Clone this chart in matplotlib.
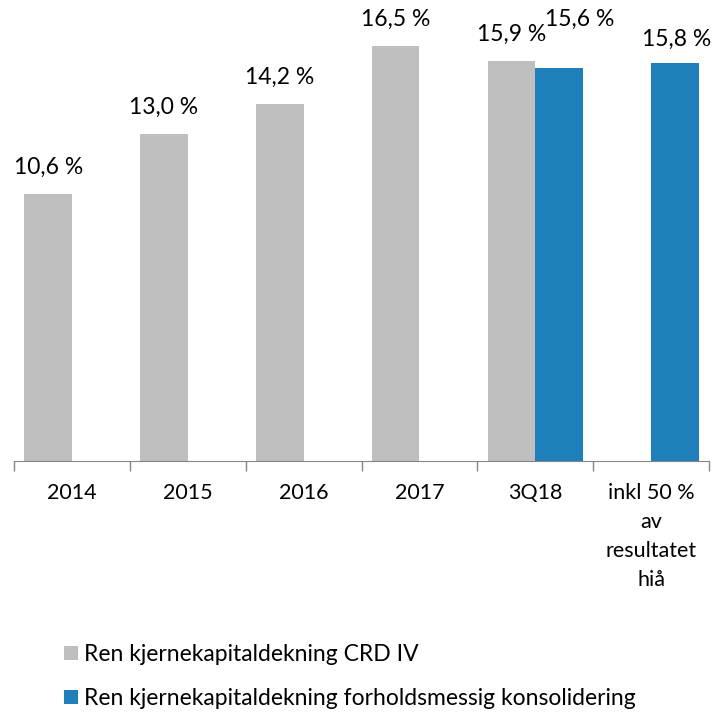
import matplotlib.pyplot as plt
import numpy as np

categories = ["2014", "2015", "2016", "2017", "3Q18", "inkl 50 %\nav\nresultatet\nhiå"]
crd_iv = [10.6, 13.0, 14.2, 16.5, 15.9, np.nan]
konsolidering = [np.nan, np.nan, np.nan, np.nan, 15.6, 15.8]
series_names = ["Ren kjernekapitaldekning CRD IV",
                "Ren kjernekapitaldekning forholdsmessig konsolidering"]

GRAY = "#BFBFBF"
BLUE = "#1F7FBA"

plt.rcParams['font.family'] = ['Lato', 'DejaVu Sans']

fig = plt.figure(figsize=(7.17, 7.12), dpi=100)
ax = fig.add_axes([0.0195, 0.3525, 0.9695, 0.6363])

x = np.arange(len(categories))
w = 0.41
b1 = ax.bar(x - w / 2, crd_iv, w, color=GRAY, label=series_names[0])
b2 = ax.bar(x + w / 2, konsolidering, w, color=BLUE, label=series_names[1])


def fmt(v):
    return ("%.1f %%" % v).replace(".", ",")


for xi, v in zip(x, crd_iv):
    if not np.isnan(v):
        ax.annotate(fmt(v), (xi - w / 2, v), xytext=(0, 19), textcoords="offset points",
                    ha="center", va="center", fontsize=16.5)
for xi, v in zip(x, konsolidering):
    if np.isnan(v):
        continue
    # the 3Q18 label was nudged up/right in the original to avoid overlap
    off = (15, 35) if xi == 4 else (1, 17)
    ax.annotate(fmt(v), (xi + w / 2, v), xytext=off, textcoords="offset points",
                ha="center", va="center", fontsize=16.5)

ax.set_xlim(-0.5, len(categories) - 0.5)
ax.set_ylim(0, 18)
ax.set_yticks([])
for s in ["top", "right", "left"]:
    ax.spines[s].set_visible(False)
ax.spines["bottom"].set_color("#868686")

ax.set_xticks(x)
ax.set_xticklabels(categories, fontsize=15.5, linespacing=1.55)
ax.tick_params(axis="x", which="major", length=0, pad=16)
ax.set_xticks(np.arange(-0.5, len(categories)), minor=True)
ax.tick_params(axis="x", which="minor", length=7, color="#868686", width=1)

fig.legend(handles=[b1, b2], loc="upper left", bbox_to_anchor=(0.077, 0.108),
           frameon=False, fontsize=16.5, handlelength=0.6, handleheight=0.6,
           handletextpad=0.25, labelspacing=1.0, borderaxespad=0)

fig.savefig("out.png", dpi=100)
